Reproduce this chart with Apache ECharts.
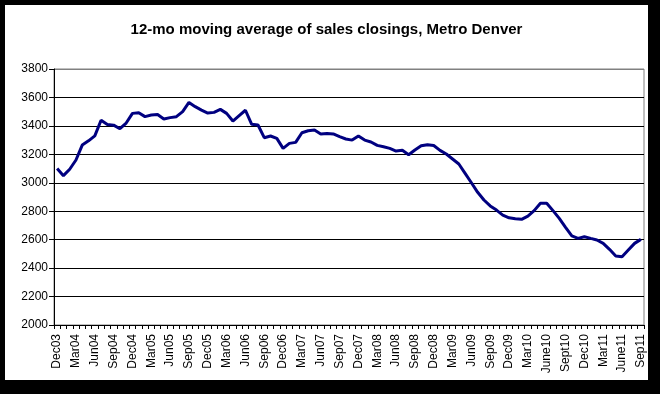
<!DOCTYPE html>
<html>
<head>
<meta charset="utf-8">
<script src="https://cdn.jsdelivr.net/npm/echarts@6/dist/echarts.min.js"></script>
<style>
html,body{margin:0;padding:0;background:#000;}
#wrap{position:relative;width:660px;height:394px;background:#000;overflow:hidden;}
#chart{position:absolute;left:5px;top:5px;width:643px;height:375px;background:#fff;}
</style>
</head>
<body>
<div id="wrap"><div id="chart"></div></div>
<script>
const titleText = "12-mo moving average of sales closings, Metro Denver";
const categories = [
  "Dec03",
  "Jan04","Feb04","Mar04","Apr04","May04","Jun04","Jul04","Aug04","Sep04","Oct04","Nov04","Dec04",
  "Jan05","Feb05","Mar05","Apr05","May05","Jun05","Jul05","Aug05","Sep05","Oct05","Nov05","Dec05",
  "Jan06","Feb06","Mar06","Apr06","May06","Jun06","Jul06","Aug06","Sep06","Oct06","Nov06","Dec06",
  "Jan07","Feb07","Mar07","Apr07","May07","Jun07","Jul07","Aug07","Sep07","Oct07","Nov07","Dec07",
  "Jan08","Feb08","Mar08","Apr08","May08","Jun08","Jul08","Aug08","Sep08","Oct08","Nov08","Dec08",
  "Jan09","Feb09","Mar09","Apr09","May09","Jun09","Jul09","Aug09","Sep09","Oct09","Nov09","Dec09",
  "Jan10","Feb10","Mar10","Apr10","May10","June10","Jul10","Aug10","Sept10","Oct10","Nov10","Dec10",
  "Jan11","Feb11","Mar11","Apr11","May11","June11","Jul11","Aug11","Sep11"
];
const closings = [
  3100,
  3050,3095,3160,3265,3295,3330,3440,3410,3405,3380,3420,3488,
  3492,3465,3476,3480,3448,3458,3465,3500,3565,3535,3511,3490,
  3495,3516,3488,3434,3472,3510,3411,3406,3317,3329,3312,3242,
  3277,3284,3352,3366,3371,3343,3347,3343,3324,3308,3300,3329,
  3300,3287,3263,3253,3242,3223,3228,3197,3230,3260,3268,3262,
  3228,3202,3167,3132,3066,3000,2933,2879,2837,2808,2773,2754,
  2747,2743,2766,2804,2856,2856,2804,2750,2687,2626,2609,2621,
  2609,2598,2574,2532,2485,2480,2527,2574,2602
];
const yMin = 2000, yMax = 3800, yStep = 200;

const chart = echarts.init(document.getElementById('chart'), null, {renderer:'canvas'});
const nLines = (yMax - yMin) / yStep + 1;
const splitColors = [];
for (let i = 0; i < nLines; i++) splitColors.push(i === nLines - 1 ? '#808080' : '#000000');

chart.setOption({
  animation: false,
  backgroundColor: '#ffffff',
  title: {
    text: titleText,
    left: 'center',
    top: 12,
    textStyle: {fontFamily: 'Liberation Sans, Arial, sans-serif', fontSize: 15, fontWeight: 'bold', color: '#000'}
  },
  grid: {
    left: 49, right: 4, top: 64, bottom: 55,
    show: true, borderColor: '#808080', borderWidth: 1, backgroundColor: 'transparent'
  },
  xAxis: {
    type: 'category',
    data: categories,
    boundaryGap: true,
    axisLine: {lineStyle: {color: '#000', width: 1}},
    axisTick: {show: true, interval: 0, length: 4, lineStyle: {color: '#000'}},
    axisLabel: {
      interval: 2, rotate: 90, margin: 9,
      fontFamily: 'Liberation Sans, Arial, sans-serif', fontSize: 12, color: '#000'
    },
    splitLine: {show: false}
  },
  yAxis: {
    type: 'value',
    min: yMin, max: yMax, interval: yStep,
    axisLine: {show: true, lineStyle: {color: '#000', width: 1}},
    axisTick: {show: true, length: 5, lineStyle: {color: '#000'}},
    axisLabel: {
      margin: 6, formatter: function (v) { return String(v); },
      fontFamily: 'Liberation Sans, Arial, sans-serif', fontSize: 12, color: '#000'
    },
    splitLine: {show: true, lineStyle: {color: splitColors, width: 1}}
  },
  series: [{
    type: 'line',
    data: closings,
    symbol: 'none',
    smooth: false,
    lineStyle: {color: '#000080', width: 3},
    z: 5
  }]
});
</script>
</body>
</html>
